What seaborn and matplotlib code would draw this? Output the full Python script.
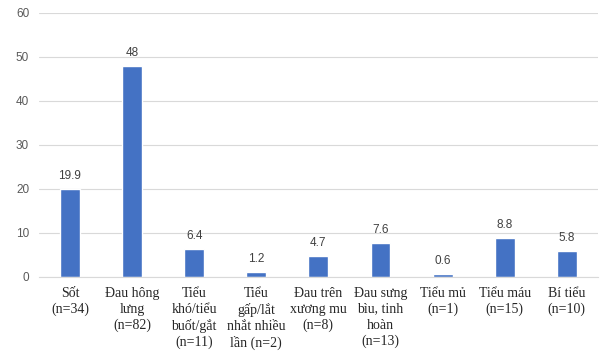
import pandas as pd
import matplotlib.pyplot as plt
import seaborn as sns

# Data
categories = [
    "Sốt\n(n=34)",
    "Đau hông\nlưng\n(n=82)",
    "Tiểu\nkhó/tiểu\nbuốt/gắt\n(n=11)",
    "Tiểu\ngấp/lắt\nnhắt nhiều\nlần (n=2)",
    "Đau trên\nxương mu\n(n=8)",
    "Đau sưng\nbìu, tinh\nhoàn\n(n=13)",
    "Tiểu mủ\n(n=1)",
    "Tiểu máu\n(n=15)",
    "Bí tiểu\n(n=10)",
]
values = [19.9, 48, 6.4, 1.2, 4.7, 7.6, 0.6, 8.8, 5.8]
value_labels = ["19.9", "48", "6.4", "1.2", "4.7", "7.6", "0.6", "8.8", "5.8"]
y_ticks = [0, 10, 20, 30, 40, 50, 60]

df = pd.DataFrame({"cat": categories, "val": values})

sns.set_style("white")
fig = plt.figure(figsize=(6.07, 3.6), dpi=100)
ax = fig.add_axes([0.064, 0.231, 0.921, 0.733])

sns.barplot(data=df, x="cat", y="val", color="#4472C4", saturation=1,
            width=0.32, ax=ax)

# Value labels above bars
for p, lab in zip(ax.patches, value_labels):
    ax.text(p.get_x() + p.get_width() / 2, p.get_height() + 1.6, lab,
            ha="center", va="bottom", fontsize=8.5, color="#404040",
            family="Liberation Sans")

ax.set_ylim(0, 60)
ax.set_xlim(-0.5, len(categories) - 0.5)
ax.set_yticks(y_ticks)
ax.tick_params(axis="y", length=0, labelsize=8.5, labelcolor="#595959", pad=7)
ax.tick_params(axis="x", length=0, pad=7)
for t in ax.get_xticklabels():
    t.set_family("Liberation Serif")
    t.set_fontsize(10)
    t.set_color("#262626")
    t.set_linespacing(1.3)
for t in ax.get_yticklabels():
    t.set_family("Liberation Sans")

# Category boundary tick marks
ax.set_xticks([i - 0.5 for i in range(len(categories) + 1)], minor=True)
ax.tick_params(axis="x", which="minor", length=5, color="#d9d9d9", width=0.8)

ax.yaxis.grid(True, color="#d9d9d9", linewidth=0.8)
ax.set_axisbelow(True)
for s in ["top", "right", "left"]:
    ax.spines[s].set_visible(False)
ax.spines["bottom"].set_color("#d9d9d9")
ax.set_xlabel("")
ax.set_ylabel("")

fig.savefig("out.png", dpi=100)
